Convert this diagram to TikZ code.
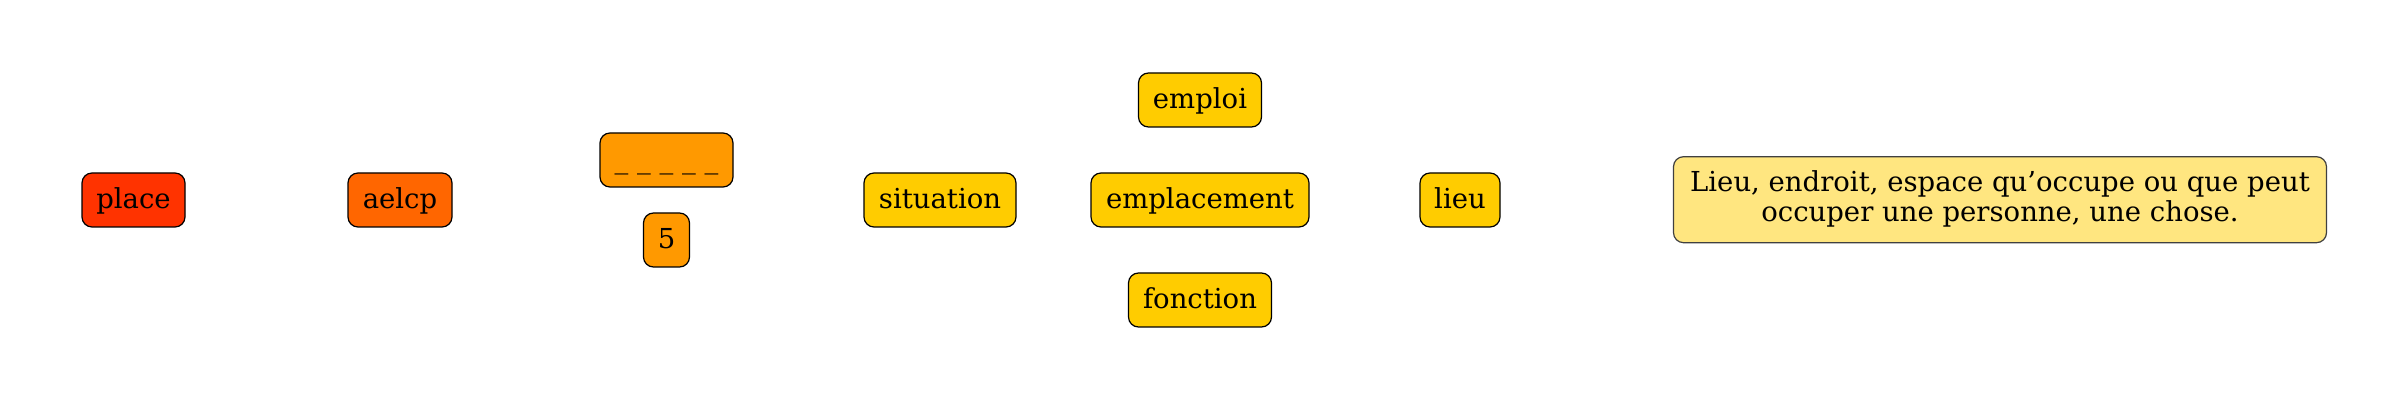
\documentclass[tikz,border=0pt]{standalone}
\usepackage{fontspec}
\setmainfont{DejaVu Serif}
\definecolor{cplace}{HTML}{FF3300}
\definecolor{caelcp}{HTML}{FF6600}
\definecolor{corange}{HTML}{FF9900}
\definecolor{cyellow}{HTML}{FFCC00}
\definecolor{cdef}{HTML}{FFE680}
\begin{document}
\begin{tikzpicture}[x=0.5pt,y=-0.5pt,
  box/.style={draw=black,line width=0.6pt,rounded corners=5pt,minimum height=27pt,inner xsep=7pt,inner ysep=0pt,text height=10.5pt,text depth=2.1pt,font=\fontsize{13.75pt}{15pt}\selectfont,text=black},
  defbox/.style={box,draw=black!75,align=center,minimum height=43pt,text height=24.1pt,text depth=2.1pt}]
\useasboundingbox (0,0) rectangle (2400,400);
\node[box,fill=cplace,minimum width=51.5pt] (place) at (133.5,200) {place};
\node[box,fill=caelcp,minimum width=52pt] (aelcp) at (400,200) {aelcp};
\node[box,fill=corange,minimum width=66.5pt] (blank) at (666.5,160) {\_ \_ \_ \_ \_};
\node[box,fill=corange,minimum width=23pt] (five) at (666.5,240) {5};
\node[box,fill=cyellow,minimum width=76pt] (situation) at (940,200) {situation};
\node[box,fill=cyellow,minimum width=61.5pt] (emploi) at (1200,100) {emploi};
\node[box,fill=cyellow,minimum width=109pt] (emplacement) at (1200,200) {emplacement};
\node[box,fill=cyellow,minimum width=71.5pt] (fonction) at (1200,300) {fonction};
\node[box,fill=cyellow,minimum width=40pt] (lieu) at (1460,200) {lieu};
\node[defbox,fill=cdef,minimum width=326.5pt] (def) at (2000,199.7) {Lieu, endroit, espace qu’occupe ou que peut\\occuper une personne, une chose.};
\end{tikzpicture}
\end{document}
